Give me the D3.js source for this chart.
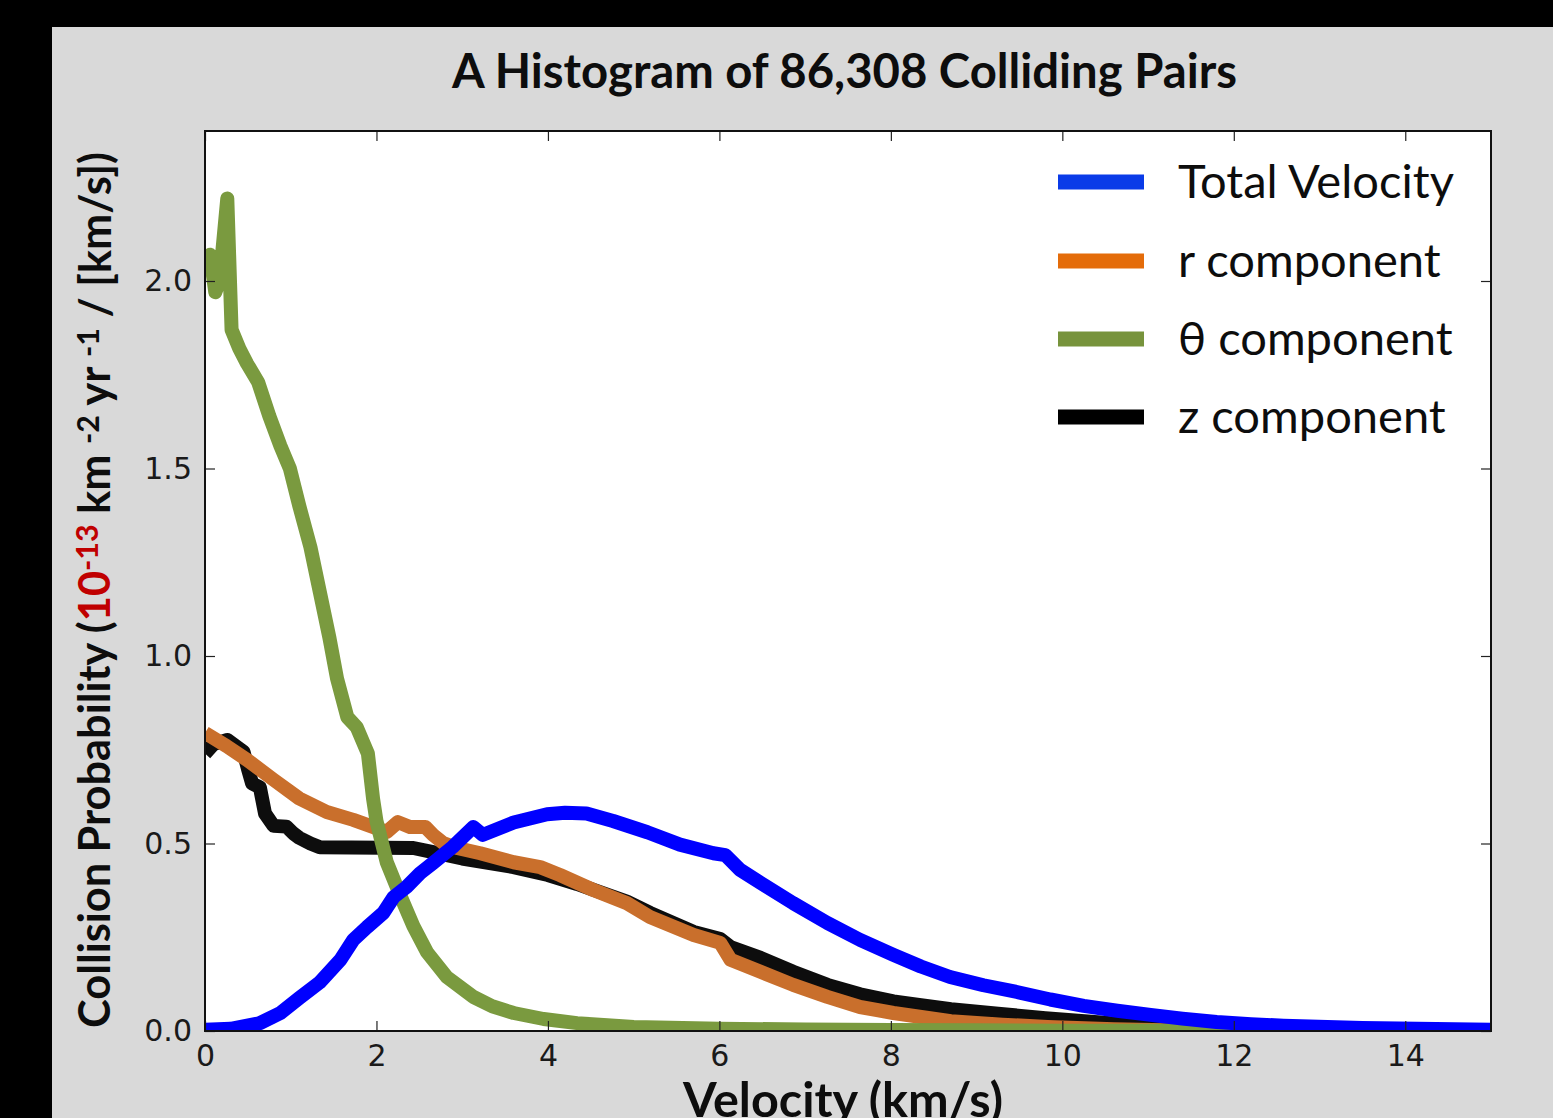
<!DOCTYPE html>
<html>
<head>
<meta charset="utf-8">
<script src="https://cdn.jsdelivr.net/npm/d3@7"></script>
<style>
  html, body { margin: 0; padding: 0; background: #000; }
  svg { display: block; }
</style>
</head>
<body>
<svg id="chart" width="1553" height="1118"></svg>
<script>
// ---------------- DATA ----------------
const xTicks = [0, 2, 4, 6, 8, 10, 12, 14];
const yTicks = [0.0, 0.5, 1.0, 1.5, 2.0];

const seriesNames = ["Total Velocity", "r component", "\u03B8 component", "z component"];

const totalV = [0, 0.3, 0.64, 0.88, 1.1, 1.34, 1.58, 1.73, 1.89, 2.08, 2.2, 2.35, 2.51, 2.66, 2.89, 3.13, 3.24, 3.6, 3.99, 4.2, 4.45, 4.76, 5.16, 5.54, 5.93, 6.07, 6.24, 6.48, 6.86, 7.26, 7.64, 8.03, 8.35, 8.69, 9.08, 9.47, 9.86, 10.25, 10.64, 11.03, 11.4, 11.8, 12.2, 12.58, 13.5, 15];
const totalP = [0.003, 0.006, 0.021, 0.048, 0.088, 0.13, 0.19, 0.243, 0.277, 0.315, 0.357, 0.384, 0.421, 0.448, 0.491, 0.544, 0.523, 0.556, 0.578, 0.582, 0.58, 0.56, 0.53, 0.497, 0.474, 0.469, 0.43, 0.395, 0.341, 0.288, 0.243, 0.203, 0.172, 0.144, 0.122, 0.104, 0.084, 0.067, 0.054, 0.043, 0.033, 0.024, 0.018, 0.014, 0.008, 0.003];

const rV = [0, 0.25, 0.49, 0.8, 1.1, 1.42, 1.73, 2.12, 2.25, 2.39, 2.57, 2.66, 2.78, 2.94, 3.21, 3.6, 3.91, 4.14, 4.53, 4.92, 5.19, 5.7, 6.01, 6.13, 6.48, 6.86, 7.26, 7.64, 8.03, 8.7, 9.3, 9.83, 10.6, 11.5, 12.5, 15];
const rP = [0.795, 0.76, 0.723, 0.67, 0.62, 0.584, 0.563, 0.531, 0.557, 0.544, 0.544, 0.523, 0.501, 0.488, 0.474, 0.45, 0.437, 0.416, 0.376, 0.341, 0.304, 0.256, 0.235, 0.19, 0.158, 0.123, 0.091, 0.064, 0.048, 0.026, 0.017, 0.011, 0.005, 0.001, 0, 0];

const thetaV = [0, 0.06, 0.12, 0.17, 0.26, 0.31, 0.4, 0.49, 0.62, 0.75, 0.88, 0.99, 1.1, 1.23, 1.34, 1.45, 1.54, 1.66, 1.77, 1.9, 1.96, 2.0, 2.12, 2.28, 2.43, 2.59, 2.82, 3.13, 3.35, 3.6, 3.95, 4.34, 5.0, 6.0, 7.0, 8.0, 9.0, 10, 12, 15];
const thetaP = [2.06, 2.07, 1.97, 2.0, 2.22, 1.87, 1.82, 1.78, 1.73, 1.64, 1.56, 1.50, 1.40, 1.29, 1.17, 1.05, 0.94, 0.837, 0.81, 0.74, 0.62, 0.56, 0.45, 0.36, 0.28, 0.21, 0.144, 0.091, 0.066, 0.048, 0.032, 0.021, 0.011, 0.006, 0.004, 0.003, 0.002, 0.001, 0.0005, 0];

const zV = [0, 0.1, 0.26, 0.45, 0.5, 0.55, 0.64, 0.7, 0.8, 0.95, 1.03, 1.1, 1.23, 1.34, 2.43, 2.66, 3.0, 3.6, 4.0, 4.34, 4.92, 5.19, 5.7, 6.01, 6.13, 6.48, 6.86, 7.26, 7.64, 8.03, 8.35, 8.7, 9.25, 9.8, 10.6, 11.5, 12.5, 15];
const zP = [0.74, 0.765, 0.776, 0.744, 0.70, 0.66, 0.65, 0.58, 0.547, 0.545, 0.527, 0.515, 0.50, 0.49, 0.488, 0.477, 0.46, 0.437, 0.416, 0.392, 0.345, 0.315, 0.264, 0.245, 0.224, 0.195, 0.158, 0.123, 0.098, 0.079, 0.069, 0.058, 0.046, 0.034, 0.02, 0.008, 0.003, 0];

// ---------------- LAYOUT ----------------
const svg = d3.select("#chart");
const W = 1553, H = 1118;
const plot = { left: 205, top: 131, right: 1491, bottom: 1031 };

svg.append("rect").attr("x", 0).attr("y", 0).attr("width", W).attr("height", H).attr("fill", "#000");
svg.append("rect").attr("x", 52).attr("y", 27).attr("width", W - 52).attr("height", H - 27).attr("fill", "#d9d9d9");

const x = d3.scaleLinear().domain([0, 15]).range([plot.left, plot.right]);
const y = d3.scaleLinear().domain([0, 2.4]).range([plot.bottom, plot.top]);

svg.append("rect").attr("x", plot.left).attr("y", plot.top)
  .attr("width", plot.right - plot.left).attr("height", plot.bottom - plot.top)
  .attr("fill", "#fff");

svg.append("clipPath").attr("id", "clip").append("rect")
  .attr("x", plot.left).attr("y", plot.top)
  .attr("width", plot.right - plot.left).attr("height", plot.bottom - plot.top);

// ---------------- LINES ----------------
const line = d3.line().x(d => x(d[0])).y(d => y(d[1]));
const zip = (a, b) => a.map((v, i) => [v, b[i]]);

const lineSeries = [
  { name: seriesNames[3], data: zip(zV, zP), color: "#0d0d0d" },
  { name: seriesNames[1], data: zip(rV, rP), color: "#c96f2c" },
  { name: seriesNames[2], data: zip(thetaV, thetaP), color: "#7a9a3f" },
  { name: seriesNames[0], data: zip(totalV, totalP), color: "#0000ff" }
];

const gLines = svg.append("g").attr("clip-path", "url(#clip)");
lineSeries.forEach(s => {
  gLines.append("path").datum(s.data)
    .attr("d", line)
    .attr("fill", "none")
    .attr("stroke", s.color)
    .attr("stroke-width", 14)
    .attr("stroke-linejoin", "round")
    .attr("stroke-linecap", "butt");
});

// ---------------- AXES ----------------
const tickFont = "'DejaVu Sans', sans-serif";
const tickLen = 10;

const xAxisB = d3.axisBottom(x).tickValues(xTicks).tickSizeInner(-tickLen).tickSizeOuter(0).tickPadding(14).tickFormat(d3.format("d"));
const xAxisT = d3.axisTop(x).tickValues(xTicks).tickSizeInner(-tickLen).tickSizeOuter(0).tickFormat("");
const yAxisL = d3.axisLeft(y).tickValues(yTicks).tickSizeInner(-tickLen).tickSizeOuter(0).tickPadding(13).tickFormat(d3.format(".1f"));
const yAxisR = d3.axisRight(y).tickValues(yTicks).tickSizeInner(-tickLen).tickSizeOuter(0).tickFormat("");

function styleAxis(g) {
  g.select(".domain").remove();
  g.selectAll(".tick line").attr("stroke", "#222").attr("stroke-width", 1.2);
  g.selectAll(".tick text").attr("fill", "#1a1a1a").style("font-family", tickFont).style("font-size", "30px");
}

svg.append("g").attr("transform", `translate(0,${plot.bottom})`).call(xAxisB).call(styleAxis);
svg.append("g").attr("transform", `translate(0,${plot.top})`).call(xAxisT).call(styleAxis);
svg.append("g").attr("transform", `translate(${plot.left},0)`).call(yAxisL).call(styleAxis);
svg.append("g").attr("transform", `translate(${plot.right},0)`).call(yAxisR).call(styleAxis);

// plot frame
svg.append("rect").attr("x", plot.left).attr("y", plot.top)
  .attr("width", plot.right - plot.left).attr("height", plot.bottom - plot.top)
  .attr("fill", "none").attr("stroke", "#111").attr("stroke-width", 2);

// ---------------- TEXT HELPERS ----------------
const labelFont = "Lato, 'Open Sans', sans-serif";
function fitWidth(sel, target) {
  const base = parseFloat(sel.style("font-size"));
  const len = sel.node().getComputedTextLength();
  sel.style("font-size", (base * target / len) + "px");
}

// Title
const title = svg.append("text")
  .attr("x", (452 + 1237) / 2).attr("y", 88)
  .attr("text-anchor", "middle")
  .style("font-family", labelFont).style("font-weight", "bold").style("font-size", "42px")
  .attr("fill", "#0d0d0d")
  .text("A Histogram of 86,308 Colliding Pairs");
fitWidth(title, 785);

// X label (partly cut by the bottom edge, as in the original image)
const xl = svg.append("text")
  .attr("x", (683 + 1003) / 2).attr("y", 1117)
  .attr("text-anchor", "middle")
  .style("font-family", labelFont).style("font-weight", "bold").style("font-size", "42px")
  .attr("fill", "#0d0d0d")
  .text("Velocity (km/s)");
fitWidth(xl, 320);

// Y label (rotated)
const yl = svg.append("text")
  .attr("transform", `translate(110, ${(1028 + 152) / 2}) rotate(-90)`)
  .attr("text-anchor", "middle")
  .style("font-family", labelFont).style("font-weight", "bold").style("font-size", "42px")
  .attr("fill", "#0d0d0d");
yl.append("tspan").text("Collision Probability (");
yl.append("tspan").attr("fill", "#c00000").text("10");
yl.append("tspan").attr("fill", "#c00000").attr("dy", "-0.38em").style("font-size", "0.7em").text("-13");
yl.append("tspan").attr("dy", "0.27em").text(" km ");
yl.append("tspan").attr("dy", "-0.38em").style("font-size", "0.7em").text("-2");
yl.append("tspan").attr("dy", "0.27em").text(" yr ");
yl.append("tspan").attr("dy", "-0.38em").style("font-size", "0.7em").text("-1");
yl.append("tspan").attr("dy", "0.27em").text(" / [km/s])");
fitWidth(yl, 876);

// ---------------- LEGEND ----------------
const legendItems = [
  { name: seriesNames[0], color: "#0a3be8" },
  { name: seriesNames[1], color: "#e46c0a" },
  { name: seriesNames[2], color: "#77933c" },
  { name: seriesNames[3], color: "#000000" }
];
const legendY = [182, 261, 339, 417];
const lg = svg.append("g");
legendItems.forEach((it, i) => {
  lg.append("rect").attr("x", 1058).attr("y", legendY[i] - 7.5)
    .attr("width", 86).attr("height", 15).attr("fill", it.color);
  const t = lg.append("text").attr("x", 1178).attr("y", legendY[i] + 16)
    .style("font-family", labelFont).style("font-size", "42px")
    .attr("fill", "#0d0d0d").text(it.name);
  if (i === 0) fitWidth(t, 276);
});
// use the same font size for all legend labels
const lfs = lg.select("text").style("font-size");
lg.selectAll("text").style("font-size", lfs);
</script>
</body>
</html>
